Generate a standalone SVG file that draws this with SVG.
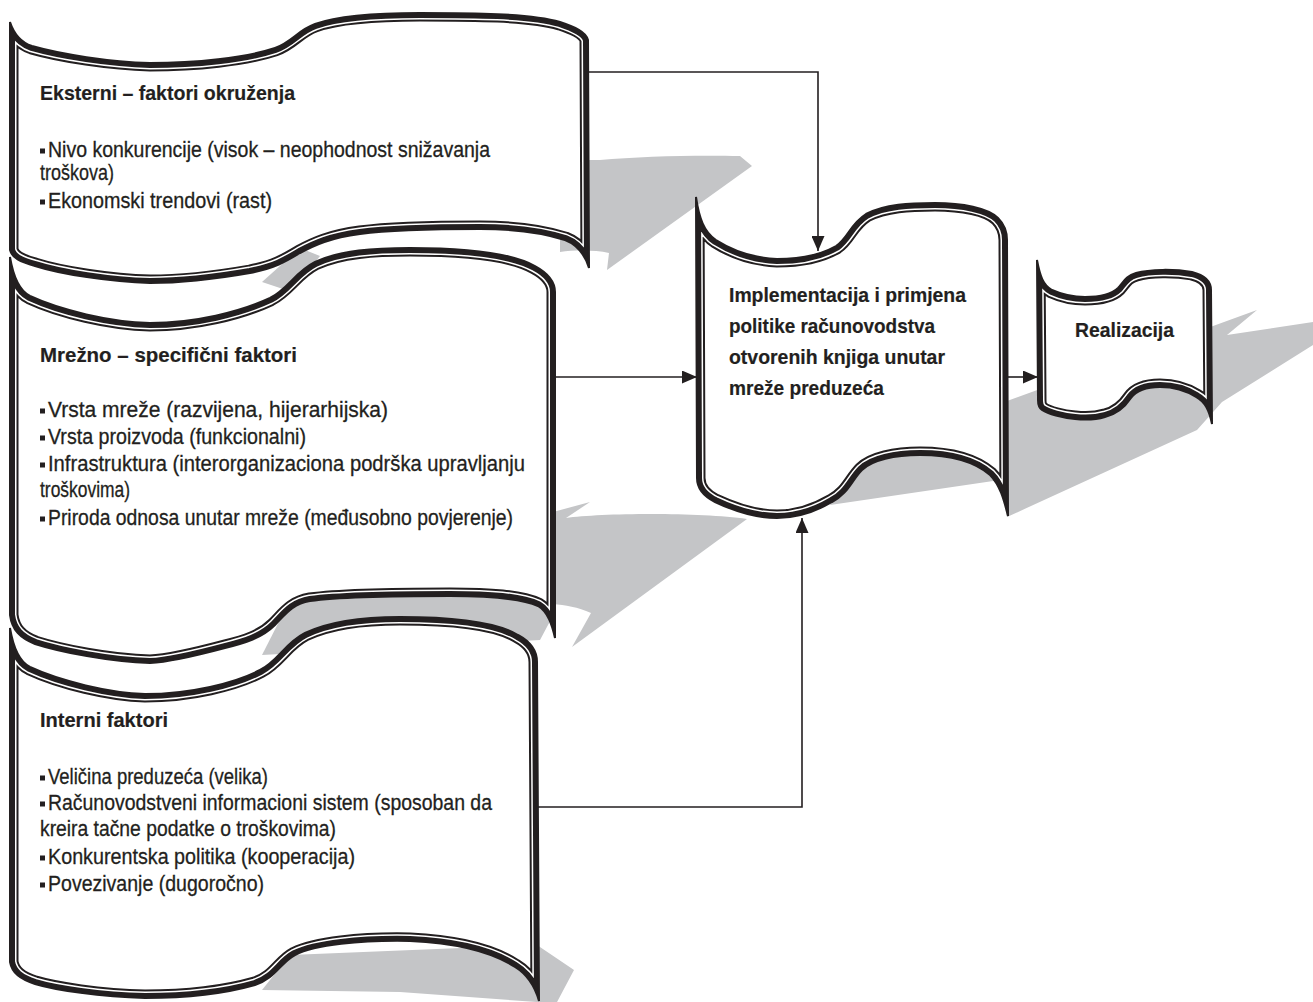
<svg xmlns="http://www.w3.org/2000/svg" xmlns:xlink="http://www.w3.org/1999/xlink" width="1313" height="1002" viewBox="0 0 1313 1002">
<style>
.t{font-family:"Liberation Sans",Arial,sans-serif;font-size:22px;fill:#231f20;stroke:#231f20;stroke-width:0.3}
.b{font-weight:bold;font-size:21px;stroke-width:0.2}
.bl{fill:#231f20}
.fill{fill:#fff;stroke:none}
.k1{fill:none;stroke:#231f20;stroke-width:17;stroke-linejoin:round}
.w1{fill:none;stroke:#fff;stroke-width:13;stroke-linejoin:round}
.k2{fill:none;stroke:#231f20;stroke-width:10;stroke-linejoin:round}
.ko{fill:none;stroke:#231f20;stroke-width:2}
.sh{fill:#c4c5c7}
.con{fill:none;stroke:#231f20;stroke-width:1.6}
</style>
<defs>
<marker id="ah" markerWidth="15" markerHeight="13" refX="15" refY="6.5" orient="auto" markerUnits="userSpaceOnUse"><path d="M0,0 L15,6.5 L0,13 Z" fill="#231f20"/></marker>
<path id="p1" d="M10,22 C14,34 20,42 32,46 C60,54 110,62 150,63 C195,63 245,58 275,48 C292,42 298,30 315,24 C340,15 380,13 420,13 C470,13 530,13 560,22 C575,27 586,32 588,40 L589,268 C585,255 578,245 565,240 C540,232 510,229 480,229 C440,229 390,230 360,234 C330,238 315,245 300,253 C285,262 275,268 250,273 C210,280 180,283 150,283 C110,282 60,274 35,266 C20,262 12,258 10,250 Z"/>
<path id="p2" d="M10,257 C13,275 18,290 30,296 C60,310 110,322 150,323 C195,323 240,312 270,298 C288,289 295,272 315,262 C340,250 375,248 410,248 C460,248 510,252 535,266 C548,273 555,282 555,292 L555,638 C552,625 548,612 538,606 C520,598 490,596 450,596 C400,596 340,597 310,601 C292,604 285,615 275,625 C262,638 245,643 225,648 C195,656 170,662 150,663 C110,662 60,652 35,644 C20,638 12,630 10,615 Z"/>
<path id="p3" d="M10,628 C13,646 18,661 30,667 C60,681 110,693 145,694 C190,694 235,683 260,670 C278,661 285,643 305,633 C330,621 365,617 400,617 C450,617 495,621 518,635 C531,642 537,652 537,662 L539,1001 C535,987 528,975 515,967 C492,952 455,943 410,941 C360,940 315,945 295,955 C280,963 276,978 255,985 C220,995 180,998 145,998 C100,997 55,990 35,984 C20,979 12,973 10,962 Z"/>
<path id="p4" d="M696,197 C699,218 704,232 716,240 C735,252 755,258 777,259 C800,259 822,254 836,246 C848,238 850,224 866,214 C885,204 910,203 935,203 C962,203 988,208 998,218 C1004,224 1007,230 1007,240 L1008,516 C1004,500 1000,485 990,475 C975,462 950,455 920,455 C895,455 872,460 862,470 C852,480 848,494 832,502 C815,512 795,518 777,518 C755,518 732,510 715,502 C703,496 697,488 697,478 Z"/>
<path id="p5" d="M1037,260 C1040,276 1043,285 1052,290 C1063,295 1073,297 1085,297 C1100,297 1112,294 1118,288 C1124,281 1126,276 1136,273 C1150,269 1175,269 1192,272 C1204,275 1211,281 1211,290 L1212,424 C1209,410 1205,402 1196,397 C1185,390 1172,387 1160,387 C1145,387 1136,391 1131,398 C1125,407 1118,414 1105,417 C1095,420 1085,420 1075,419 C1062,418 1048,414 1042,410 C1039,408 1038,405 1038,400 Z"/>
<clipPath id="c1"><use xlink:href="#p1"/></clipPath>
<clipPath id="c2"><use xlink:href="#p2"/></clipPath>
<clipPath id="c3"><use xlink:href="#p3"/></clipPath>
<clipPath id="c4"><use xlink:href="#p4"/></clipPath>
<clipPath id="c5"><use xlink:href="#p5"/></clipPath>
</defs>

<g id="shadows">
<path class="sh" d="M560,160 L600,160 C640,156 700,155 740,156 L752,166 L607,270 L609,253 C595,250 575,250 560,252 Z"/>
<path class="sh" d="M262,282 L300,248 L320,256 L292,292 Z"/>
<path class="sh" d="M553,512 L590,502 L566,518 C600,513 700,512 747,519 L572,647 L591,613 C578,607 565,605 553,604 Z"/>
<path class="sh" d="M262,655 L290,600 L556,585 L556,610 L540,640 Z"/>
<path class="sh" d="M830,505 L853,457 L1257,310 L1227,335 L1313,322 L1313,345 L1222,402 L1197,430 L1007,517 L1000,480 Z"/>
<path class="sh" d="M262,990 L290,955 L537,945 L574,970 L556,1004 L537,1002 L400,992 Z"/>
</g>

<g id="node-eksterni">
<use xlink:href="#p1" class="fill"/>
<g clip-path="url(#c1)"><use xlink:href="#p1" class="k1"/><use xlink:href="#p1" class="w1"/><use xlink:href="#p1" class="k2"/></g>
<use xlink:href="#p1" class="ko"/>
<text class="t b" x="40" y="100" textLength="255" lengthAdjust="spacingAndGlyphs">Eksterni – faktori okruženja</text>
<rect class="bl" x="40" y="148.5" width="5" height="5"/>
<text class="t" x="48" y="157" textLength="442" lengthAdjust="spacingAndGlyphs">Nivo konkurencije (visok – neophodnost snižavanja</text>
<text class="t" x="40" y="180" textLength="74" lengthAdjust="spacingAndGlyphs">troškova)</text>
<rect class="bl" x="40" y="199.5" width="5" height="5"/>
<text class="t" x="48" y="208" textLength="224" lengthAdjust="spacingAndGlyphs">Ekonomski trendovi (rast)</text>
</g>

<g id="node-mrezno">
<use xlink:href="#p2" class="fill"/>
<g clip-path="url(#c2)"><use xlink:href="#p2" class="k1"/><use xlink:href="#p2" class="w1"/><use xlink:href="#p2" class="k2"/></g>
<use xlink:href="#p2" class="ko"/>
<text class="t b" x="40" y="362" textLength="257" lengthAdjust="spacingAndGlyphs">Mrežno – specifični faktori</text>
<rect class="bl" x="40" y="408.5" width="5" height="5"/>
<text class="t" x="48" y="417" textLength="340" lengthAdjust="spacingAndGlyphs">Vrsta mreže (razvijena, hijerarhijska)</text>
<rect class="bl" x="40" y="435.5" width="5" height="5"/>
<text class="t" x="48" y="444" textLength="258" lengthAdjust="spacingAndGlyphs">Vrsta proizvoda (funkcionalni)</text>
<rect class="bl" x="40" y="462.5" width="5" height="5"/>
<text class="t" x="48" y="471" textLength="477" lengthAdjust="spacingAndGlyphs">Infrastruktura (interorganizaciona podrška upravljanju</text>
<text class="t" x="40" y="497" textLength="90" lengthAdjust="spacingAndGlyphs">troškovima)</text>
<rect class="bl" x="40" y="516.5" width="5" height="5"/>
<text class="t" x="48" y="525" textLength="465" lengthAdjust="spacingAndGlyphs">Priroda odnosa unutar mreže (međusobno povjerenje)</text>
</g>

<g id="node-interni">
<use xlink:href="#p3" class="fill"/>
<g clip-path="url(#c3)"><use xlink:href="#p3" class="k1"/><use xlink:href="#p3" class="w1"/><use xlink:href="#p3" class="k2"/></g>
<use xlink:href="#p3" class="ko"/>
<text class="t b" x="40" y="727" textLength="128" lengthAdjust="spacingAndGlyphs">Interni faktori</text>
<rect class="bl" x="40" y="775.5" width="5" height="5"/>
<text class="t" x="48" y="784" textLength="220" lengthAdjust="spacingAndGlyphs">Veličina preduzeća (velika)</text>
<rect class="bl" x="40" y="801.5" width="5" height="5"/>
<text class="t" x="48" y="810" textLength="444" lengthAdjust="spacingAndGlyphs">Računovodstveni informacioni sistem (sposoban da</text>
<text class="t" x="40" y="836" textLength="296" lengthAdjust="spacingAndGlyphs">kreira tačne podatke o troškovima)</text>
<rect class="bl" x="40" y="855.5" width="5" height="5"/>
<text class="t" x="48" y="864" textLength="307" lengthAdjust="spacingAndGlyphs">Konkurentska politika (kooperacija)</text>
<rect class="bl" x="40" y="882.5" width="5" height="5"/>
<text class="t" x="48" y="891" textLength="216" lengthAdjust="spacingAndGlyphs">Povezivanje (dugoročno)</text>
</g>

<g id="node-implementacija">
<use xlink:href="#p4" class="fill"/>
<g clip-path="url(#c4)"><use xlink:href="#p4" class="k1"/><use xlink:href="#p4" class="w1"/><use xlink:href="#p4" class="k2"/></g>
<use xlink:href="#p4" class="ko"/>
<text class="t b" x="729" y="302" textLength="237" lengthAdjust="spacingAndGlyphs">Implementacija i primjena</text>
<text class="t b" x="729" y="333" textLength="206" lengthAdjust="spacingAndGlyphs">politike računovodstva</text>
<text class="t b" x="729" y="364" textLength="216" lengthAdjust="spacingAndGlyphs">otvorenih knjiga unutar</text>
<text class="t b" x="729" y="395" textLength="155" lengthAdjust="spacingAndGlyphs">mreže preduzeća</text>
</g>

<g id="node-realizacija">
<use xlink:href="#p5" class="fill"/>
<g clip-path="url(#c5)"><use xlink:href="#p5" class="k1"/><use xlink:href="#p5" class="w1"/><use xlink:href="#p5" class="k2"/></g>
<use xlink:href="#p5" class="ko"/>
<text class="t b" x="1075" y="337" textLength="99" lengthAdjust="spacingAndGlyphs">Realizacija</text>
</g>

<g id="connectors">
<path class="con" d="M589,72 H818 V251" marker-end="url(#ah)"/>
<path class="con" d="M556,377 H697" marker-end="url(#ah)"/>
<path class="con" d="M538,807 H802 V518" marker-end="url(#ah)"/>
<path class="con" d="M1008,377 H1038" marker-end="url(#ah)"/>
</g>
</svg>
